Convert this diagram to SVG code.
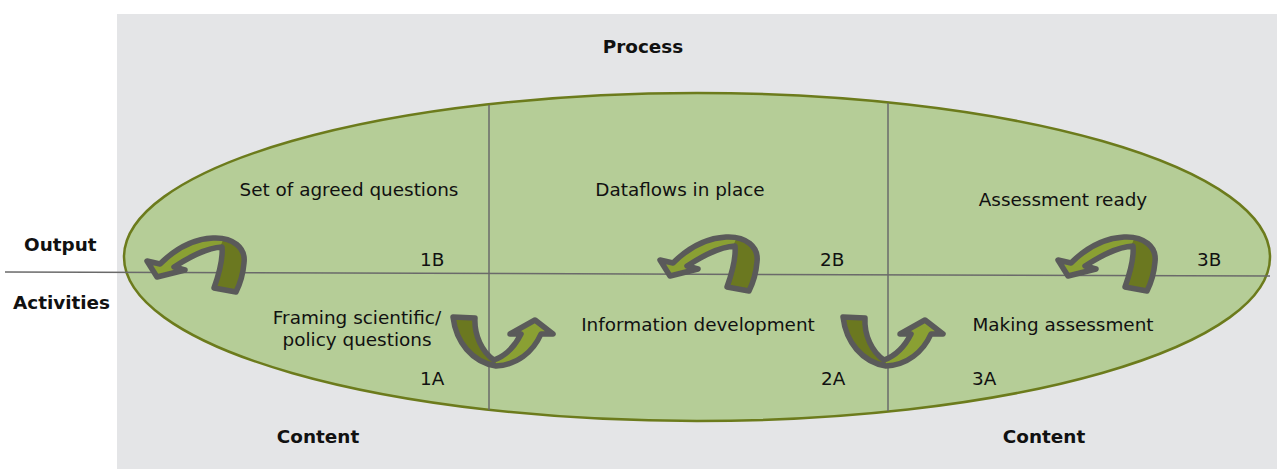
<svg xmlns="http://www.w3.org/2000/svg" width="1277" height="469" viewBox="0 0 1277 469">
<defs>
<style>
.t{font-family:"DejaVu Sans",Verdana,sans-serif;font-size:18.4px;fill:#111}
.b{font-family:"DejaVu Sans",Verdana,sans-serif;font-size:18.4px;font-weight:bold;fill:#111}
.m{text-anchor:middle}
.ln{stroke:#6a6a6a;stroke-width:1.5;fill:none}
.lt{fill:#8aa033}
.dk{fill:#6b7820}
.ol{fill:none;stroke:#5a5a5a;stroke-width:5.5;stroke-linejoin:round}
</style>
<g id="arrTop">
<path class="lt" d="M147,261 L160,264 C176,248 193,239 213,238 C233,237 246,248 244,263 C243,275 240,284 236,292 L214,288 C219,274 223,258 222,247 C205,248 188,258 174,267 L185,270 L157,277 Z"/>
<path class="dk" d="M220,247 L224,238 C238,241 246,251 244,263 C243,275 240,284 236,292 L214,288 C219,274 223,258 222,247 Z"/>
<path class="ol" d="M147,261 L160,264 C176,248 193,239 213,238 C233,237 246,248 244,263 C243,275 240,284 236,292 L214,288 C219,274 223,258 222,247 C205,248 188,258 174,267 L185,270 L157,277 Z"/>
</g>
<g id="arrBot">
<path class="lt" d="M453,317 L475,318 C474,335 482,352 494,360 C505,356 515,346 521,334 L510,334 L535,320 L553,334 L541,334 C533,352 517,365 496,366 C472,362 456,342 453,317 Z"/>
<path class="dk" d="M453,317 L475,318 C474,335 482,352 495,360 L497,366 C472,362 456,342 453,317 Z"/>
<path class="ol" d="M453,317 L475,318 C474,335 482,352 494,360 C505,356 515,346 521,334 L510,334 L535,320 L553,334 L541,334 C533,352 517,365 496,366 C472,362 456,342 453,317 Z"/>
</g>
</defs>
<rect x="117" y="14" width="1160" height="455" fill="#e4e5e7"/>
<g id="ellipse">
<ellipse cx="697" cy="257" rx="573" ry="164" fill="#b5cd97" stroke="#6c7b1c" stroke-width="2.5"/>
</g>
<g id="connectors">
<line class="ln" x1="5" y1="272" x2="1270" y2="276"/>
<line class="ln" x1="489" y1="105" x2="489" y2="410"/>
<line class="ln" x1="888" y1="103" x2="888" y2="411"/>
<use id="arrow-1B" href="#arrTop"/>
<use id="arrow-2B" href="#arrTop" transform="translate(513,-1)"/>
<use id="arrow-3B" href="#arrTop" transform="translate(911,-1)"/>
<use id="arrow-1A" href="#arrBot"/>
<use id="arrow-2A" href="#arrBot" transform="translate(390,0)"/>
</g>
<g id="labels">
<text class="b m" x="643" y="53">Process</text>
<text class="b" x="24" y="251">Output</text>
<text class="b" x="13" y="309">Activities</text>
<text class="b m" x="318" y="443">Content</text>
<text class="b m" x="1044" y="443">Content</text>
</g>
<g id="node-1B">
<text class="t m" x="349" y="196">Set of agreed questions</text>
<text class="t" x="420" y="266">1B</text>
</g>
<g id="node-2B">
<text class="t m" x="680" y="196">Dataflows in place</text>
<text class="t" x="820" y="266">2B</text>
</g>
<g id="node-3B">
<text class="t m" x="1063" y="206">Assessment ready</text>
<text class="t" x="1197" y="266">3B</text>
</g>
<g id="node-1A">
<text class="t m" x="357" y="324">Framing scientific/</text>
<text class="t m" x="357" y="346">policy questions</text>
<text class="t" x="420" y="385">1A</text>
</g>
<g id="node-2A">
<text class="t m" x="698" y="331">Information development</text>
<text class="t" x="821" y="385">2A</text>
</g>
<g id="node-3A">
<text class="t m" x="1063" y="331">Making assessment</text>
<text class="t" x="972" y="385">3A</text>
</g>
</svg>
